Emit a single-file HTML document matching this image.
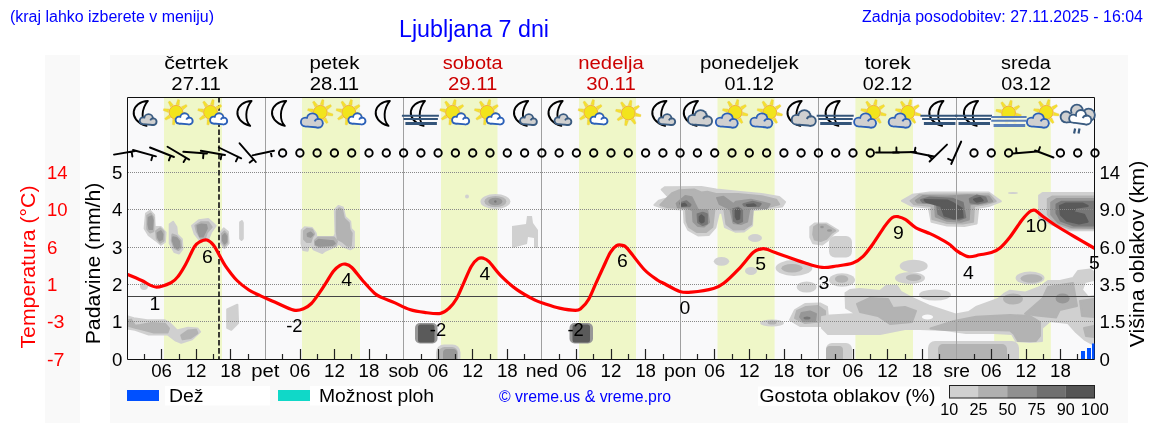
<!DOCTYPE html><html><head><meta charset="utf-8"><style>html,body{margin:0;padding:0;background:#fff;overflow:hidden}svg{display:block;will-change:transform}text{font-family:"Liberation Sans",sans-serif}</style></head><body>
<svg width="1152" height="443" viewBox="0 0 1152 443">
<defs>
<clipPath id="plot"><rect x="127" y="97" width="968" height="262"/></clipPath>
<g id="moon"><path d="M3.6 -12.0 C-12.5 -11.5 -17.5 7 2.2 12.9 C-3.2 7.3 -3.2 -4 3.6 -12.0 Z" fill="none" stroke="#000" stroke-width="1.9" stroke-linejoin="round"/></g>
<g id="sun"><g fill="#f4e12e" stroke="#e9c04a" stroke-width="0.35"><path d="M6.98 3.22 L12.31 3.64 L12.73 1.68 L7.69 -0.10 Z"/><path d="M2.66 7.22 L6.13 11.28 L7.81 10.19 L5.51 5.36 Z"/><path d="M-3.22 6.98 L-3.64 12.31 L-1.68 12.73 L0.10 7.69 Z"/><path d="M-7.22 2.66 L-11.28 6.13 L-10.19 7.81 L-5.36 5.51 Z"/><path d="M-6.98 -3.22 L-12.31 -3.64 L-12.73 -1.68 L-7.69 0.10 Z"/><path d="M-2.66 -7.22 L-6.13 -11.28 L-7.81 -10.19 L-5.51 -5.36 Z"/><path d="M3.22 -6.98 L3.64 -12.31 L1.68 -12.73 L-0.10 -7.69 Z"/><path d="M7.22 -2.66 L11.28 -6.13 L10.19 -7.81 L5.36 -5.51 Z"/></g>
<circle r="6.9" fill="#f2e41c" stroke="#f0a838" stroke-width="0.9"/></g>
<path id="cl" d="M4.5 13.5 A4.5 4.5 0 0 1 4.5 5 A5.2 5.2 0 0 1 14.5 4.5 A4.8 4.8 0 0 1 15.5 13.5 Z"/>
</defs>
<rect width="1152" height="443" fill="#fff"/>
<rect x="45" y="55" width="35" height="368" fill="#f9f9f9"/>
<rect x="110" y="55" width="1018" height="368" fill="#f9f9f9"/>
<text x="10" y="22" font-size="16" fill="#0000ff" textLength="204" lengthAdjust="spacingAndGlyphs">(kraj lahko izberete v meniju)</text>
<text x="399" y="37" font-size="23" fill="#0000ff" textLength="150" lengthAdjust="spacingAndGlyphs">Ljubljana 7 dni</text>
<text x="862" y="22" font-size="16" fill="#0000ff" textLength="281" lengthAdjust="spacingAndGlyphs">Zadnja posodobitev: 27.11.2025 - 16:04</text>
<text x="196.1" y="68.7" font-size="17.5" fill="#000" text-anchor="middle" textLength="63.9" lengthAdjust="spacingAndGlyphs">četrtek</text>
<text x="196.1" y="89.5" font-size="17.5" fill="#000" text-anchor="middle" textLength="49.5" lengthAdjust="spacingAndGlyphs">27.11</text>
<text x="334.4" y="68.7" font-size="17.5" fill="#000" text-anchor="middle" textLength="50.0" lengthAdjust="spacingAndGlyphs">petek</text>
<text x="334.4" y="89.5" font-size="17.5" fill="#000" text-anchor="middle" textLength="49.5" lengthAdjust="spacingAndGlyphs">28.11</text>
<text x="472.7" y="68.7" font-size="17.5" fill="#cc0000" text-anchor="middle" textLength="60.0" lengthAdjust="spacingAndGlyphs">sobota</text>
<text x="472.7" y="89.5" font-size="17.5" fill="#cc0000" text-anchor="middle" textLength="49.5" lengthAdjust="spacingAndGlyphs">29.11</text>
<text x="611.0" y="68.7" font-size="17.5" fill="#cc0000" text-anchor="middle" textLength="65.5" lengthAdjust="spacingAndGlyphs">nedelja</text>
<text x="611.0" y="89.5" font-size="17.5" fill="#cc0000" text-anchor="middle" textLength="49.5" lengthAdjust="spacingAndGlyphs">30.11</text>
<text x="749.3" y="68.7" font-size="17.5" fill="#000" text-anchor="middle" textLength="98.8" lengthAdjust="spacingAndGlyphs">ponedeljek</text>
<text x="749.3" y="89.5" font-size="17.5" fill="#000" text-anchor="middle" textLength="49.5" lengthAdjust="spacingAndGlyphs">01.12</text>
<text x="887.6" y="68.7" font-size="17.5" fill="#000" text-anchor="middle" textLength="45.9" lengthAdjust="spacingAndGlyphs">torek</text>
<text x="887.6" y="89.5" font-size="17.5" fill="#000" text-anchor="middle" textLength="49.5" lengthAdjust="spacingAndGlyphs">02.12</text>
<text x="1025.9" y="68.7" font-size="17.5" fill="#000" text-anchor="middle" textLength="49.7" lengthAdjust="spacingAndGlyphs">sreda</text>
<text x="1025.9" y="89.5" font-size="17.5" fill="#000" text-anchor="middle" textLength="49.5" lengthAdjust="spacingAndGlyphs">03.12</text>
<rect x="127" y="97" width="968" height="262" fill="#f9f9fa"/>
<rect x="164" y="97" width="58.0" height="262" fill="#eff7c8"/>
<rect x="302" y="97" width="58.0" height="262" fill="#eff7c8"/>
<rect x="441" y="97" width="56.5" height="262" fill="#eff7c8"/>
<rect x="579" y="97" width="57.0" height="262" fill="#eff7c8"/>
<rect x="717.5" y="97" width="57.1" height="262" fill="#eff7c8"/>
<rect x="855.4" y="97" width="57.6" height="262" fill="#eff7c8"/>
<rect x="994.2" y="97" width="56.6" height="262" fill="#eff7c8"/>
<g clip-path="url(#plot)">
<path d="M146.0 213.5 L150.0 210.8 L154.1 214.9 L154.8 227.1 L160.9 227.1 L165.6 232.5 L164.9 242.0 L160.9 244.7 L156.1 240.6 L148.7 235.2 L144.6 228.4 Z" fill="#d0d0d0" stroke="#d0d0d0" stroke-width="2" stroke-linejoin="round"/>
<path d="M147.3 215.6 L150.7 213.5 L153.4 217.6 L153.4 231.2 L150.0 232.5 L147.3 229.1 Z" fill="#b3b3b3" stroke="#b3b3b3" stroke-width="2" stroke-linejoin="round"/>
<path d="M148.7 217.6 L151.4 216.3 L152.7 220.3 L152.1 229.1 L149.3 229.1 L148.3 224.4 Z" fill="#979797" stroke="#979797" stroke-width="2" stroke-linejoin="round"/>
<path d="M156.1 231.2 L160.2 228.4 L163.6 231.8 L163.6 240.6 L160.2 242.7 L156.8 238.6 Z" fill="#b3b3b3" stroke="#b3b3b3" stroke-width="2" stroke-linejoin="round"/>
<path d="M157.5 233.2 L160.9 231.2 L162.5 234.5 L161.9 239.3 L159.5 240.4 L157.9 237.2 Z" fill="#979797" stroke="#979797" stroke-width="2" stroke-linejoin="round"/>
<path d="M169.7 224.4 L173.1 221.7 L176.4 227.1 L177.1 234.5 L181.9 239.3 L182.5 248.8 L179.1 253.5 L174.4 252.1 L169.7 243.3 Z" fill="#d0d0d0" stroke="#d0d0d0" stroke-width="2" stroke-linejoin="round"/>
<path d="M172.4 234.5 L176.4 235.9 L180.5 240.6 L181.2 247.4 L178.5 250.1 L174.4 248.1 L171.7 240.6 Z" fill="#b3b3b3" stroke="#b3b3b3" stroke-width="2" stroke-linejoin="round"/>
<path d="M173.1 237.2 L176.4 237.9 L179.1 241.3 L179.6 246.7 L177.4 248.5 L174.7 246.1 L172.8 240.6 Z" fill="#979797" stroke="#979797" stroke-width="2" stroke-linejoin="round"/>
<path d="M192.0 225.7 L198.8 220.3 L208.3 219.0 L215.7 225.7 L211.0 232.5 L207.6 240.6 L200.1 240.6 L194.7 233.9 Z" fill="#d0d0d0" stroke="#d0d0d0" stroke-width="2" stroke-linejoin="round"/>
<path d="M195.4 225.7 L200.8 222.3 L208.3 222.3 L211.7 227.1 L206.9 232.5 L204.9 238.6 L200.8 238.6 L196.8 231.8 Z" fill="#b3b3b3" stroke="#b3b3b3" stroke-width="2" stroke-linejoin="round"/>
<path d="M197.4 225.7 L201.5 224.4 L206.2 225.1 L206.9 228.4 L204.2 233.9 L202.8 236.6 L200.1 236.6 L198.1 231.2 Z" fill="#979797" stroke="#979797" stroke-width="2" stroke-linejoin="round"/>
<path d="M220.5 232.5 L223.8 228.4 L227.9 231.8 L228.6 243.3 L224.5 248.1 L221.1 243.3 Z" fill="#d0d0d0" stroke="#d0d0d0" stroke-width="2" stroke-linejoin="round"/>
<path d="M221.8 233.9 L224.3 231.4 L227.0 234.5 L227.2 242.7 L224.5 245.8 L222.1 242.0 Z" fill="#b3b3b3" stroke="#b3b3b3" stroke-width="2" stroke-linejoin="round"/>
<path d="M222.9 235.9 L224.8 233.9 L226.4 236.6 L226.4 241.3 L224.5 243.6 L222.9 240.6 Z" fill="#979797" stroke="#979797" stroke-width="2" stroke-linejoin="round"/>
<path d="M240.1 222.3 L241.9 221.0 L242.8 223.0 L242.8 238.6 L241.5 240.0 L240.1 238.6 Z" fill="#d0d0d0" stroke="#d0d0d0" stroke-width="2" stroke-linejoin="round"/>
<path d="M301.7 230.2 L304.7 227.3 L312.0 228.0 L315.7 233.2 L316.4 236.9 L334.1 236.9 L335.5 233.9 L334.8 209.7 L338.5 206.0 L342.9 207.5 L345.1 217.0 L350.2 221.4 L350.9 228.8 L353.9 231.7 L353.9 247.1 L350.2 249.3 L341.4 245.7 L338.5 243.5 L337.0 245.7 L325.2 250.8 L322.3 253.0 L313.5 249.3 L309.8 243.5 L307.6 250.8 L303.2 250.1 L301.5 243.5 Z" fill="#d0d0d0" stroke="#d0d0d0" stroke-width="2" stroke-linejoin="round"/>
<path d="M304.0 231.0 L306.9 228.8 L312.0 229.5 L314.2 233.9 L312.0 237.6 L310.6 242.0 L306.9 242.0 L304.0 239.1 Z" fill="#b3b3b3" stroke="#b3b3b3" stroke-width="2" stroke-linejoin="round"/>
<path d="M315.0 240.5 L317.9 237.6 L334.1 237.6 L337.0 241.3 L335.5 245.7 L319.4 247.1 L315.0 244.9 Z" fill="#b3b3b3" stroke="#b3b3b3" stroke-width="2" stroke-linejoin="round"/>
<path d="M336.7 211.2 L339.2 208.2 L342.1 209.7 L344.0 218.5 L348.7 222.9 L349.5 229.5 L351.7 233.2 L350.9 245.7 L347.3 245.7 L342.9 242.0 L337.7 239.1 L336.7 231.7 Z" fill="#b3b3b3" stroke="#b3b3b3" stroke-width="2" stroke-linejoin="round"/>
<path d="M307.6 233.9 L310.6 232.4 L312.8 234.6 L310.6 236.9 L307.9 236.1 Z" fill="#979797" stroke="#979797" stroke-width="2" stroke-linejoin="round"/>
<path d="M315.7 242.0 L318.6 239.8 L333.3 241.3 L334.8 243.5 L332.6 244.9 L319.4 245.7 L316.1 244.6 Z" fill="#979797" stroke="#979797" stroke-width="2" stroke-linejoin="round"/>
<path d="M127.0 316.3 L133.8 318.3 L147.3 320.3 L164.9 320.3 L170.3 323.7 L177.1 330.5 L188.0 327.8 L197.4 328.4 L200.1 331.8 L192.0 339.3 L181.2 342.7 L175.8 340.6 L167.6 334.5 L148.7 334.5 L135.1 329.8 L127.0 328.4 Z" fill="#d0d0d0" stroke="#d0d0d0" stroke-width="2" stroke-linejoin="round"/>
<path d="M128.4 320.3 L131.1 319.6 L135.1 325.7 L140.5 325.1 L151.4 323.0 L164.9 323.7 L169.0 328.4 L167.6 332.5 L154.1 332.5 L140.5 329.1 L135.1 327.8 L128.4 325.7 Z" fill="#b3b3b3" stroke="#b3b3b3" stroke-width="2" stroke-linejoin="round"/>
<path d="M181.2 335.2 L188.0 330.5 L196.1 329.8 L197.4 333.2 L190.7 337.9 L182.5 339.3 Z" fill="#b3b3b3" stroke="#b3b3b3" stroke-width="2" stroke-linejoin="round"/>
<path d="M227.2 309.5 L237.4 304.7 L238.1 323.0 L231.3 329.8 L227.2 327.8 Z" fill="#d0d0d0" stroke="#d0d0d0" stroke-width="2" stroke-linejoin="round"/>
<ellipse cx="144" cy="286" rx="4" ry="4" fill="#d0d0d0"/>
<ellipse cx="495.4" cy="201.5" rx="15" ry="7.5" fill="#d0d0d0"/>
<ellipse cx="495.4" cy="201.5" rx="11" ry="5.5" fill="#b3b3b3"/>
<ellipse cx="495.4" cy="201.5" rx="7" ry="3.8" fill="#979797"/>
<ellipse cx="495.4" cy="201.5" rx="1.2" ry="1.2" fill="#777777"/>
<ellipse cx="467" cy="196.5" rx="2" ry="2" fill="#d0d0d0"/>
<path d="M512 226 L526 224 L527 216 L532 216 L533 223 L538 230 L538 248 L534 248 L534 238 L528 237 L527 244 L512 248 Z" fill="#d0d0d0"/>
<rect x="415" y="323" width="22.5" height="20.5" rx="5" fill="#979797"/>
<rect x="418" y="324.5" width="16.5" height="18.0" rx="2.5" fill="#5a5a5a"/>
<rect x="569.5" y="323" width="23.5" height="20.5" rx="5" fill="#979797"/>
<rect x="572.5" y="324.5" width="17.5" height="18.0" rx="2.5" fill="#5a5a5a"/>
<rect x="436" y="344.5" width="24.5" height="20.5" rx="8" fill="#d0d0d0"/>
<rect x="438.5" y="347" width="19.5" height="18" rx="6" fill="#b3b3b3"/>
<rect x="443" y="349" width="14" height="16" rx="4" fill="#979797"/>
<path d="M661.7 189.5 L664.7 187.3 L701.4 187.0 L716.1 189.5 L738.1 191.7 L761.6 194.0 L779.2 196.9 L785.1 202.0 L782.2 206.4 L767.5 208.6 L752.8 210.1 L752.1 225.5 L744.0 231.4 L735.2 231.7 L724.9 227.0 L722.0 213.0 L719.0 212.6 L715.3 227.7 L708.7 235.1 L698.5 235.5 L688.2 229.9 L684.5 222.6 L683.8 209.4 L664.7 208.6 L654.4 205.0 L658.8 200.6 L669.1 197.6 Z" fill="#d0d0d0" stroke="#d0d0d0" stroke-width="2" stroke-linejoin="round"/>
<path d="M663.2 202.0 L672.0 193.2 L679.4 190.3 L694.1 189.5 L701.4 192.5 L707.3 191.7 L716.1 194.0 L738.1 194.0 L761.6 196.2 L776.3 199.8 L779.2 204.2 L767.5 207.2 L752.8 208.6 L751.3 224.1 L744.0 229.2 L733.7 229.6 L726.4 224.1 L724.2 208.6 L714.6 207.9 L712.4 227.0 L705.8 232.1 L697.0 232.1 L688.9 227.0 L686.7 221.1 L686.0 208.6 L667.6 207.2 L660.3 205.0 Z" fill="#b3b3b3" stroke="#b3b3b3" stroke-width="2" stroke-linejoin="round"/>
<path d="M676.6 203.4 L685.3 195.9 L691.6 197.2 L697.8 209.7 L701.5 210.3 L707.2 210.3 L709.0 222.2 L704.0 226.5 L697.8 225.9 L693.4 221.5 L692.8 210.3 L687.8 207.8 L677.8 207.2 Z" fill="#979797" stroke="#979797" stroke-width="2" stroke-linejoin="round"/>
<path d="M717.1 197.9 L723.4 196.7 L733.4 204.1 L735.9 201.7 L750.8 199.8 L769.6 204.1 L767.1 207.9 L749.6 207.9 L747.1 221.6 L740.9 224.1 L733.4 222.9 L730.3 209.1 L719.6 204.1 Z" fill="#979797" stroke="#979797" stroke-width="2" stroke-linejoin="round"/>
<path d="M680.2 203.2 L686.4 201.2 L690.5 204.8 L689.4 206.3 L681.2 206.3 Z" fill="#777777" stroke="#777777" stroke-width="2" stroke-linejoin="round"/>
<path d="M697.6 214.2 L702.8 212.7 L706.9 214.2 L706.9 223.5 L702.8 225.0 L698.1 222.4 Z" fill="#777777" stroke="#777777" stroke-width="2" stroke-linejoin="round"/>
<path d="M732.9 209.1 L738.0 207.6 L742.1 210.1 L742.1 221.4 L738.0 223.0 L733.9 220.9 Z" fill="#777777" stroke="#777777" stroke-width="2" stroke-linejoin="round"/>
<path d="M743.3 204.3 L752.5 201.7 L760.7 203.8 L758.7 206.3 L744.3 205.8 Z" fill="#777777" stroke="#777777" stroke-width="2" stroke-linejoin="round"/>
<path d="M699.7 216.8 L701.5 215.4 L703.7 217.2 L703.7 221.6 L701.5 222.5 L699.7 220.7 Z" fill="#5a5a5a" stroke="#5a5a5a" stroke-width="2" stroke-linejoin="round"/>
<path d="M735.7 210.0 L738.4 209.1 L739.7 211.3 L739.2 218.8 L737.0 219.2 L735.7 216.6 Z" fill="#5a5a5a" stroke="#5a5a5a" stroke-width="2" stroke-linejoin="round"/>
<path d="M681.5 204.4 L684.6 203.6 L686.3 205.3 L681.9 205.8 Z" fill="#5a5a5a" stroke="#5a5a5a" stroke-width="2" stroke-linejoin="round"/>
<path d="M746.8 205.0 L753.8 204.2 L755.6 205.5 L747.7 205.9 Z" fill="#5a5a5a" stroke="#5a5a5a" stroke-width="2" stroke-linejoin="round"/>
<ellipse cx="755" cy="238" rx="7" ry="4" fill="#d0d0d0"/>
<path d="M810.3 227.0 L814.7 223.4 L826.4 223.4 L838.2 230.7 L833.8 233.6 L827.9 240.2 L822.0 244.6 L813.2 243.2 L810.3 237.3 Z" fill="#d0d0d0" stroke="#d0d0d0" stroke-width="2" stroke-linejoin="round"/>
<path d="M814.0 227.0 L817.6 224.8 L825.7 224.8 L835.2 230.7 L831.6 232.9 L826.4 238.8 L820.6 241.0 L814.7 239.5 L813.2 234.4 Z" fill="#b3b3b3" stroke="#b3b3b3" stroke-width="2" stroke-linejoin="round"/>
<ellipse cx="822" cy="227" rx="1.8" ry="1.3" fill="#979797"/>
<ellipse cx="829.5" cy="230.5" rx="2.5" ry="1.2" fill="#979797"/>
<rect x="829" y="236" width="23" height="21.5" rx="6" fill="#d0d0d0"/>
<ellipse cx="721.5" cy="261.3" rx="7.7" ry="4.4" fill="#d0d0d0"/>
<ellipse cx="751" cy="270.9" rx="6" ry="4" fill="#d0d0d0"/>
<ellipse cx="794" cy="268" rx="18.4" ry="7.9" fill="#d0d0d0"/>
<ellipse cx="792" cy="268.3" rx="10.6" ry="4.2" fill="#b3b3b3"/>
<ellipse cx="806.6" cy="287" rx="10" ry="5.6" fill="#d0d0d0"/>
<path d="M795 310 L805 304 L820 303.5 L827 307 L828 318 L822 326 L800 326 L790 320 Z" fill="#d0d0d0" stroke="#d0d0d0" stroke-width="2" stroke-linejoin="round"/>
<path d="M797 311 L806 307 L818 306 L825 311 L825 321 L805 323 L795 318 Z" fill="#b3b3b3" stroke="#b3b3b3" stroke-width="2" stroke-linejoin="round"/>
<path d="M801.5 313 L810 311.5 L816 314 L815 321 L803 321 L800 317 Z" fill="#979797" stroke="#979797" stroke-width="2" stroke-linejoin="round"/>
<ellipse cx="807" cy="318" rx="3.5" ry="1.5" fill="#777777"/>
<ellipse cx="772" cy="323" rx="12" ry="3.6" fill="#d0d0d0"/>
<ellipse cx="772" cy="322.5" rx="4.5" ry="2" fill="#b3b3b3"/>
<path d="M845.5 293 L850 290 L860 289 L880 291 L886 286 L897 286 L901 292 L912 298 L929 305.7 L955.5 314.5 L968.7 312 L976 307 L998 299 L1004 294 L1010 290.7 L1025 292.6 L1040 287 L1048 281 L1060 281 L1073 278 L1078 271 L1090 269.5 L1094 272 L1094 280 L1085 282 L1082 290 L1088 297 L1094 296 L1094 345 L1085 340 L1076 332 L1068 323 L1050 321 L1042 328 L1042 341 L1030 342 L1016 341 L1012 334 L994 333 L966 333 L945 330 L920 329 L905 329 L880 334 L828 334 L822 328 L822 317 L830 315.5 L856 314 L846 308 Z" fill="#d0d0d0" stroke="#d0d0d0" stroke-width="2" stroke-linejoin="round"/>
<ellipse cx="913.7" cy="266" rx="14" ry="6.3" fill="#d0d0d0"/>
<ellipse cx="910" cy="278" rx="15" ry="6" fill="#d0d0d0"/>
<ellipse cx="842" cy="280" rx="13" ry="6.7" fill="#d0d0d0"/>
<ellipse cx="935" cy="295" rx="16" ry="5.5" fill="#d0d0d0"/>
<ellipse cx="1030" cy="278" rx="14.5" ry="6.5" fill="#d0d0d0"/>
<ellipse cx="913.6" cy="277.7" rx="7.7" ry="3.4" fill="#b3b3b3"/>
<ellipse cx="841.6" cy="279" rx="6.7" ry="3.8" fill="#b3b3b3"/>
<ellipse cx="1031.5" cy="278.5" rx="11" ry="4.3" fill="#b3b3b3"/>
<ellipse cx="1013" cy="299" rx="10" ry="5.5" fill="#b3b3b3"/>
<path d="M857 304 L870 298 L888 299 L893 308 L905 307 L916 311 L912 322 L890 324 L878 316 L860 312 Z" fill="#b3b3b3" stroke="#b3b3b3" stroke-width="2" stroke-linejoin="round"/>
<path d="M1025 313.7 L1042.5 298.4 L1048 286.9 L1073 283 L1077 306 L1059.7 310 L1056 317.5 L1036.7 315.6 Z" fill="#b3b3b3" stroke="#b3b3b3" stroke-width="2" stroke-linejoin="round"/>
<ellipse cx="1062.6" cy="298.4" rx="7" ry="5" fill="#979797"/>
<path d="M930.5 328.4 L954 321 L976 316.7 L1010 315 L1030 316 L1040 322 L1040 336 L1036 341 L1018 341 L1014 334 L1010 330.5 L990 330 L966 330 L945 330 Z" fill="#b3b3b3" stroke="#b3b3b3" stroke-width="2" stroke-linejoin="round"/>
<ellipse cx="927.5" cy="317" rx="5.5" ry="2.6" fill="#f9f9fa"/>
<path d="M1080 301 L1094 299 L1094 317 L1082 316 Z" fill="#b3b3b3" stroke="#b3b3b3" stroke-width="2" stroke-linejoin="round"/>
<path d="M1084 328 L1094 326 L1094 337 L1086 336 Z" fill="#b3b3b3" stroke="#b3b3b3" stroke-width="2" stroke-linejoin="round"/>
<path d="M901.9 200.8 L912.4 194.8 L929.7 192.5 L988.8 192.5 L1000.9 201.2 L988.8 206.0 L978.3 207.8 L976.6 223.4 L964.4 226.0 L947.1 225.5 L931.5 221.7 L928.9 207.8 L912.4 206.0 Z" fill="#d0d0d0" stroke="#d0d0d0" stroke-width="2" stroke-linejoin="round"/>
<path d="M910.6 200.8 L919.3 194.8 L988.8 194.2 L995.7 201.2 L985.3 204.3 L974.0 206.0 L973.1 221.7 L962.7 223.4 L947.1 223.1 L932.3 219.1 L931.5 206.0 L914.1 204.3 Z" fill="#b3b3b3" stroke="#b3b3b3" stroke-width="2" stroke-linejoin="round"/>
<path d="M915.8 200.5 L922.8 196.0 L947.1 196.5 L967.9 195.3 L988.8 196.5 L992.2 201.2 L981.8 203.4 L969.7 204.3 L968.8 219.6 L961.0 221.7 L947.1 220.8 L935.8 216.5 L934.9 203.4 L917.6 202.6 Z" fill="#979797" stroke="#979797" stroke-width="2" stroke-linejoin="round"/>
<path d="M921.0 200.0 L929.7 197.4 L952.3 198.8 L962.7 202.6 L965.3 217.3 L959.2 219.6 L945.3 218.2 L938.4 213.9 L936.7 202.6 L922.8 202.2 Z" fill="#777777" stroke="#777777" stroke-width="2" stroke-linejoin="round"/>
<path d="M969.7 198.8 L976.6 195.6 L985.3 197.4 L987.0 201.2 L978.3 203.4 L970.5 202.6 Z" fill="#777777" stroke="#777777" stroke-width="2" stroke-linejoin="round"/>
<path d="M924.5 200.0 L947.1 200.5 L952.3 202.6 L961.8 208.6 L962.7 217.3 L954.0 218.5 L944.5 215.6 L941.0 206.0 L926.2 201.7 Z" fill="#5a5a5a" stroke="#5a5a5a" stroke-width="2" stroke-linejoin="round"/>
<path d="M974.0 199.4 L980.1 197.7 L982.7 200.5 L976.6 201.7 Z" fill="#5a5a5a" stroke="#5a5a5a" stroke-width="2" stroke-linejoin="round"/>
<ellipse cx="1013" cy="193" rx="5" ry="1" fill="#d0d0d0"/>
<path d="M1039.1 195.6 L1042.6 193.0 L1093.8 193.0 L1093.8 230.3 L1068.6 230.3 L1051.2 224.3 L1039.1 218.2 Z" fill="#d0d0d0" stroke="#d0d0d0" stroke-width="2" stroke-linejoin="round"/>
<path d="M1047.8 199.1 L1052.1 196.5 L1093.8 196.5 L1093.8 228.6 L1070.3 228.6 L1054.7 223.4 L1047.8 214.7 Z" fill="#b3b3b3" stroke="#b3b3b3" stroke-width="2" stroke-linejoin="round"/>
<path d="M1051.2 202.6 L1056.5 199.1 L1093.8 199.1 L1093.8 227.7 L1072.1 227.2 L1058.2 222.5 L1051.2 214.7 Z" fill="#979797" stroke="#979797" stroke-width="2" stroke-linejoin="round"/>
<path d="M1056.5 204.3 L1061.7 201.7 L1093.8 201.7 L1093.8 225.5 L1073.8 225.5 L1060.8 220.8 L1056.5 213.0 Z" fill="#777777" stroke="#777777" stroke-width="2" stroke-linejoin="round"/>
<path d="M1059.9 206.0 L1066.0 203.4 L1082.5 203.4 L1087.7 206.0 L1075.6 207.8 L1073.8 212.1 L1084.2 214.7 L1087.7 221.7 L1079.0 223.4 L1066.9 220.8 L1060.8 214.7 Z" fill="#5a5a5a" stroke="#5a5a5a" stroke-width="2" stroke-linejoin="round"/>
<rect x="928" y="341" width="91" height="24" rx="7" fill="#d0d0d0"/>
<rect x="938" y="344" width="69" height="21" rx="5" fill="#b3b3b3"/>
<rect x="826" y="343" width="26" height="22" rx="6" fill="#d0d0d0"/>
<rect x="826" y="346" width="17" height="19" rx="4" fill="#b3b3b3"/>
</g>
<line x1="128" y1="321.5" x2="1094" y2="321.5" stroke="#888" stroke-width="1" stroke-dasharray="1 1"/>
<line x1="128" y1="284.5" x2="1094" y2="284.5" stroke="#888" stroke-width="1" stroke-dasharray="1 1"/>
<line x1="128" y1="247.5" x2="1094" y2="247.5" stroke="#888" stroke-width="1" stroke-dasharray="1 1"/>
<line x1="128" y1="209.5" x2="1094" y2="209.5" stroke="#888" stroke-width="1" stroke-dasharray="1 1"/>
<line x1="128" y1="172.5" x2="1094" y2="172.5" stroke="#888" stroke-width="1" stroke-dasharray="1 1"/>
<line x1="265.5" y1="97" x2="265.5" y2="359" stroke="#a0a0a0" stroke-width="1"/>
<line x1="403.5" y1="97" x2="403.5" y2="359" stroke="#a0a0a0" stroke-width="1"/>
<line x1="541.5" y1="97" x2="541.5" y2="359" stroke="#a0a0a0" stroke-width="1"/>
<line x1="680.5" y1="97" x2="680.5" y2="359" stroke="#a0a0a0" stroke-width="1"/>
<line x1="818.5" y1="97" x2="818.5" y2="359" stroke="#a0a0a0" stroke-width="1"/>
<line x1="956.5" y1="97" x2="956.5" y2="359" stroke="#a0a0a0" stroke-width="1"/>
<line x1="127" y1="296.5" x2="1095" y2="296.5" stroke="#444" stroke-width="1"/>
<line x1="219" y1="97" x2="219" y2="359" stroke="#1a1a1a" stroke-width="1.7" stroke-dasharray="5.6 2.5"/>
<path d="M127.0 274.3 C129.4 275.3 136.9 278.4 141.7 280.5 C146.5 282.6 150.7 286.6 155.6 287.0 C160.5 287.4 167.2 284.5 171.0 282.7 C174.8 280.9 176.0 279.1 178.4 276.0 C180.8 272.9 183.0 269.2 185.7 264.3 C188.4 259.4 192.1 250.5 194.5 246.7 C196.9 242.9 198.3 242.6 200.4 241.5 C202.5 240.4 204.8 239.4 207.0 240.0 C209.2 240.6 211.5 242.6 213.6 245.2 C215.7 247.8 217.5 252.1 219.5 255.5 C221.5 258.9 222.5 261.6 225.4 265.8 C228.3 270.0 233.1 276.5 237.0 280.5 C240.9 284.5 245.0 287.4 248.9 290.0 C252.8 292.6 256.3 293.9 260.6 295.9 C264.9 297.9 269.2 299.6 274.7 302.0 C280.2 304.4 288.9 309.0 293.8 310.1 C298.7 311.2 301.1 309.7 304.0 308.6 C306.9 307.5 308.9 305.9 311.4 303.5 C313.8 301.1 316.3 297.3 318.7 293.9 C321.1 290.5 323.6 286.7 326.0 282.9 C328.4 279.1 331.1 274.1 333.4 271.2 C335.7 268.3 338.0 266.5 340.0 265.3 C342.0 264.1 343.2 263.7 345.2 264.1 C347.2 264.5 348.9 264.7 351.8 267.5 C354.7 270.3 359.0 276.4 362.8 280.7 C366.6 285.0 371.3 290.4 374.5 293.2 C377.7 296.0 378.5 296.0 381.9 297.6 C385.3 299.2 390.4 300.9 395.0 302.9 C399.6 304.9 404.8 307.9 409.7 309.5 C414.6 311.1 419.3 311.8 424.4 312.4 C429.5 313.0 436.4 314.1 440.5 313.4 C444.6 312.7 446.6 310.5 449.3 308.0 C452.0 305.5 454.2 302.8 456.7 298.5 C459.1 294.2 461.6 287.7 464.0 282.3 C466.4 276.9 469.1 270.1 471.4 266.2 C473.7 262.3 476.1 260.1 478.0 258.8 C479.9 257.5 481.3 257.6 483.1 258.1 C484.9 258.6 486.1 258.8 489.0 261.7 C491.9 264.6 496.1 271.0 500.7 275.7 C505.3 280.4 511.3 285.6 516.9 289.6 C522.5 293.6 529.9 297.5 534.5 299.9 C539.1 302.2 540.6 302.3 544.7 303.7 C548.9 305.1 554.3 307.0 559.4 308.1 C564.5 309.2 571.8 310.3 575.5 310.3 C579.2 310.3 579.2 309.9 581.4 308.1 C583.6 306.3 586.3 303.5 588.7 299.3 C591.1 295.1 593.5 288.6 596.0 283.2 C598.5 277.8 601.0 272.1 603.4 267.0 C605.8 261.9 608.2 256.0 610.4 252.4 C612.6 248.8 614.5 246.8 616.5 245.6 C618.5 244.4 620.6 244.8 622.5 245.4 C624.4 246.0 624.1 244.9 627.7 248.9 C631.3 252.9 639.2 264.3 644.2 269.5 C649.2 274.7 654.3 277.8 657.8 280.2 C661.3 282.6 661.4 282.1 665.0 284.0 C668.6 285.9 675.3 290.0 679.7 291.4 C684.1 292.8 685.8 292.6 691.4 292.1 C697.0 291.6 708.1 290.0 713.5 288.5 C718.9 287.0 719.6 286.5 723.7 283.3 C727.9 280.1 733.5 274.5 738.4 269.4 C743.3 264.3 749.4 255.9 753.1 252.5 C756.8 249.1 758.2 249.7 760.4 249.1 C762.6 248.5 763.8 248.5 766.3 249.1 C768.8 249.7 768.7 250.2 775.1 252.5 C781.5 254.8 796.7 260.3 804.5 262.8 C812.3 265.3 816.6 266.9 822.0 267.4 C827.4 267.9 831.6 266.7 836.7 266.0 C841.9 265.3 848.5 264.6 852.9 263.0 C857.3 261.4 859.7 259.7 863.1 256.4 C866.5 253.1 869.7 248.3 873.4 243.2 C877.1 238.1 882.0 229.9 885.2 225.6 C888.4 221.3 890.3 219.0 892.5 217.5 C894.7 216.0 896.2 216.3 898.4 216.7 C900.6 217.1 902.8 217.8 905.7 219.7 C908.6 221.5 912.0 225.5 916.0 227.8 C920.0 230.1 926.2 231.9 930.0 233.6 C933.8 235.3 935.8 236.4 939.0 238.1 C942.2 239.8 946.1 242.0 949.0 244.0 C951.9 246.0 953.0 248.2 956.2 250.3 C959.4 252.4 964.1 255.9 968.0 256.6 C971.9 257.4 975.8 255.5 979.7 254.8 C983.6 254.1 988.0 253.7 991.4 252.6 C994.8 251.5 996.9 250.6 1000.0 248.0 C1003.1 245.4 1006.3 241.7 1010.0 237.0 C1013.7 232.3 1018.7 224.2 1022.0 220.0 C1025.3 215.8 1027.8 213.1 1030.0 211.5 C1032.2 209.9 1032.8 209.5 1035.0 210.3 C1037.2 211.1 1039.7 214.1 1043.0 216.5 C1046.3 218.9 1049.7 221.6 1055.0 225.0 C1060.3 228.4 1068.5 233.2 1075.0 237.0 C1081.5 240.8 1090.8 246.2 1094.0 248.0" fill="none" stroke="#ff0000" stroke-width="3.2" stroke-linejoin="round" stroke-linecap="round" clip-path="url(#plot)"/>
<text x="155" y="309.8" font-size="17.5" fill="#000" text-anchor="middle" textLength="10.8" lengthAdjust="spacingAndGlyphs">1</text>
<text x="207.5" y="262.5" font-size="17.5" fill="#000" text-anchor="middle" textLength="10.8" lengthAdjust="spacingAndGlyphs">6</text>
<text x="294.3" y="331.8" font-size="17.5" fill="#000" text-anchor="middle" textLength="16.3" lengthAdjust="spacingAndGlyphs">-2</text>
<text x="346.6" y="286.3" font-size="17.5" fill="#000" text-anchor="middle" textLength="10.8" lengthAdjust="spacingAndGlyphs">4</text>
<text x="438" y="336.3" font-size="17.5" fill="#000" text-anchor="middle" textLength="16.3" lengthAdjust="spacingAndGlyphs">-2</text>
<text x="484.9" y="279.8" font-size="17.5" fill="#000" text-anchor="middle" textLength="10.8" lengthAdjust="spacingAndGlyphs">4</text>
<text x="575.6" y="336.3" font-size="17.5" fill="#000" text-anchor="middle" textLength="16.3" lengthAdjust="spacingAndGlyphs">-2</text>
<text x="622.5" y="266.5" font-size="17.5" fill="#000" text-anchor="middle" textLength="10.8" lengthAdjust="spacingAndGlyphs">6</text>
<text x="685" y="314.3" font-size="17.5" fill="#000" text-anchor="middle" textLength="10.8" lengthAdjust="spacingAndGlyphs">0</text>
<text x="760.7" y="269.8" font-size="17.5" fill="#000" text-anchor="middle" textLength="10.8" lengthAdjust="spacingAndGlyphs">5</text>
<text x="824" y="289.3" font-size="17.5" fill="#000" text-anchor="middle" textLength="10.8" lengthAdjust="spacingAndGlyphs">3</text>
<text x="898.4" y="238.5" font-size="17.5" fill="#000" text-anchor="middle" textLength="10.8" lengthAdjust="spacingAndGlyphs">9</text>
<text x="968.5" y="279.0" font-size="17.5" fill="#000" text-anchor="middle" textLength="10.8" lengthAdjust="spacingAndGlyphs">4</text>
<text x="1036.3" y="231.7" font-size="17.5" fill="#000" text-anchor="middle" textLength="21.6" lengthAdjust="spacingAndGlyphs">10</text>
<text x="1094.3" y="269.3" font-size="17.5" fill="#000" text-anchor="middle" textLength="10.8" lengthAdjust="spacingAndGlyphs">5</text>
<line x1="144.5" y1="359" x2="144.5" y2="354" stroke="#222" stroke-width="1.2"/>
<line x1="161.5" y1="359" x2="161.5" y2="349" stroke="#222" stroke-width="1.2"/>
<line x1="179.5" y1="359" x2="179.5" y2="354" stroke="#222" stroke-width="1.2"/>
<line x1="196.5" y1="359" x2="196.5" y2="349" stroke="#222" stroke-width="1.2"/>
<line x1="213.5" y1="359" x2="213.5" y2="354" stroke="#222" stroke-width="1.2"/>
<line x1="230.5" y1="359" x2="230.5" y2="349" stroke="#222" stroke-width="1.2"/>
<line x1="248.5" y1="359" x2="248.5" y2="354" stroke="#222" stroke-width="1.2"/>
<line x1="282.5" y1="359" x2="282.5" y2="354" stroke="#222" stroke-width="1.2"/>
<line x1="300.5" y1="359" x2="300.5" y2="349" stroke="#222" stroke-width="1.2"/>
<line x1="317.5" y1="359" x2="317.5" y2="354" stroke="#222" stroke-width="1.2"/>
<line x1="334.5" y1="359" x2="334.5" y2="349" stroke="#222" stroke-width="1.2"/>
<line x1="351.5" y1="359" x2="351.5" y2="354" stroke="#222" stroke-width="1.2"/>
<line x1="369.5" y1="359" x2="369.5" y2="349" stroke="#222" stroke-width="1.2"/>
<line x1="386.5" y1="359" x2="386.5" y2="354" stroke="#222" stroke-width="1.2"/>
<line x1="421.5" y1="359" x2="421.5" y2="354" stroke="#222" stroke-width="1.2"/>
<line x1="438.5" y1="359" x2="438.5" y2="349" stroke="#222" stroke-width="1.2"/>
<line x1="455.5" y1="359" x2="455.5" y2="354" stroke="#222" stroke-width="1.2"/>
<line x1="472.5" y1="359" x2="472.5" y2="349" stroke="#222" stroke-width="1.2"/>
<line x1="490.5" y1="359" x2="490.5" y2="354" stroke="#222" stroke-width="1.2"/>
<line x1="507.5" y1="359" x2="507.5" y2="349" stroke="#222" stroke-width="1.2"/>
<line x1="524.5" y1="359" x2="524.5" y2="354" stroke="#222" stroke-width="1.2"/>
<line x1="559.5" y1="359" x2="559.5" y2="354" stroke="#222" stroke-width="1.2"/>
<line x1="576.5" y1="359" x2="576.5" y2="349" stroke="#222" stroke-width="1.2"/>
<line x1="593.5" y1="359" x2="593.5" y2="354" stroke="#222" stroke-width="1.2"/>
<line x1="611.5" y1="359" x2="611.5" y2="349" stroke="#222" stroke-width="1.2"/>
<line x1="628.5" y1="359" x2="628.5" y2="354" stroke="#222" stroke-width="1.2"/>
<line x1="645.5" y1="359" x2="645.5" y2="349" stroke="#222" stroke-width="1.2"/>
<line x1="663.5" y1="359" x2="663.5" y2="354" stroke="#222" stroke-width="1.2"/>
<line x1="697.5" y1="359" x2="697.5" y2="354" stroke="#222" stroke-width="1.2"/>
<line x1="714.5" y1="359" x2="714.5" y2="349" stroke="#222" stroke-width="1.2"/>
<line x1="732.5" y1="359" x2="732.5" y2="354" stroke="#222" stroke-width="1.2"/>
<line x1="749.5" y1="359" x2="749.5" y2="349" stroke="#222" stroke-width="1.2"/>
<line x1="766.5" y1="359" x2="766.5" y2="354" stroke="#222" stroke-width="1.2"/>
<line x1="784.5" y1="359" x2="784.5" y2="349" stroke="#222" stroke-width="1.2"/>
<line x1="801.5" y1="359" x2="801.5" y2="354" stroke="#222" stroke-width="1.2"/>
<line x1="835.5" y1="359" x2="835.5" y2="354" stroke="#222" stroke-width="1.2"/>
<line x1="853.5" y1="359" x2="853.5" y2="349" stroke="#222" stroke-width="1.2"/>
<line x1="870.5" y1="359" x2="870.5" y2="354" stroke="#222" stroke-width="1.2"/>
<line x1="887.5" y1="359" x2="887.5" y2="349" stroke="#222" stroke-width="1.2"/>
<line x1="905.5" y1="359" x2="905.5" y2="354" stroke="#222" stroke-width="1.2"/>
<line x1="922.5" y1="359" x2="922.5" y2="349" stroke="#222" stroke-width="1.2"/>
<line x1="939.5" y1="359" x2="939.5" y2="354" stroke="#222" stroke-width="1.2"/>
<line x1="974.5" y1="359" x2="974.5" y2="354" stroke="#222" stroke-width="1.2"/>
<line x1="991.5" y1="359" x2="991.5" y2="349" stroke="#222" stroke-width="1.2"/>
<line x1="1008.5" y1="359" x2="1008.5" y2="354" stroke="#222" stroke-width="1.2"/>
<line x1="1026.5" y1="359" x2="1026.5" y2="349" stroke="#222" stroke-width="1.2"/>
<line x1="1043.5" y1="359" x2="1043.5" y2="354" stroke="#222" stroke-width="1.2"/>
<line x1="1060.5" y1="359" x2="1060.5" y2="349" stroke="#222" stroke-width="1.2"/>
<line x1="1077.5" y1="359" x2="1077.5" y2="354" stroke="#222" stroke-width="1.2"/>
<path d="M127.5 97.5 L1094.5 97.5 L1094.5 359.5 L127.5 359.5 Z" fill="none" stroke="#111" stroke-width="1"/>
<rect x="1081" y="351" width="4" height="8" fill="#0050ff"/><rect x="1087" y="348" width="4" height="11" fill="#0050ff"/><rect x="1092" y="343.5" width="2.5" height="15.5" fill="#0050ff"/>
<g transform="translate(144.3 113)"><use href="#moon"/><g fill="#3a5b80"><circle cx="-1.21" cy="7.78" r="4.31"/><circle cx="4.26" cy="5.39" r="5.24"/><circle cx="8.95" cy="8.70" r="4.24"/><path d="M-1.21 9.74 L8.95 10.59 L8.95 12.94 L-1.21 12.09 Z"/></g><g fill="#d0d0d0"><circle cx="-1.21" cy="7.78" r="2.46"/><circle cx="4.26" cy="5.39" r="3.39"/><circle cx="8.95" cy="8.70" r="2.39"/><path d="M-1.21 7.78 L0.44 5.59 L4.26 5.39 L7.95 6.28 L8.95 8.70 L8.95 11.09 L-1.21 10.24 Z"/></g><path d="M5.95 7.30 A3.31 3.31 0 0 1 9.24 5.40" fill="none" stroke="#3a5b80" stroke-width="1.85"/></g>
<g transform="translate(178.9 113)"><use href="#sun" transform="translate(-2.9 -0.7)"/><g fill="#2b60b8"><circle cx="0.13" cy="7.06" r="4.36"/><circle cx="5.67" cy="4.65" r="5.29"/><circle cx="10.43" cy="8.00" r="4.28"/><path d="M0.13 9.07 L10.43 9.93 L10.43 12.28 L0.13 11.42 Z"/></g><g fill="#ffffff"><circle cx="0.13" cy="7.06" r="2.51"/><circle cx="5.67" cy="4.65" r="3.44"/><circle cx="10.43" cy="8.00" r="2.43"/><path d="M0.13 7.06 L1.80 4.84 L5.67 4.65 L9.43 5.54 L10.43 8.00 L10.43 10.43 L0.13 9.57 Z"/></g><path d="M7.39 6.58 A3.35 3.35 0 0 1 10.72 4.66" fill="none" stroke="#2b60b8" stroke-width="1.85"/></g>
<g transform="translate(213.4 113)"><use href="#sun" transform="translate(-2.9 -0.7)"/><g fill="#2b60b8"><circle cx="0.13" cy="7.06" r="4.36"/><circle cx="5.67" cy="4.65" r="5.29"/><circle cx="10.43" cy="8.00" r="4.28"/><path d="M0.13 9.07 L10.43 9.93 L10.43 12.28 L0.13 11.42 Z"/></g><g fill="#ffffff"><circle cx="0.13" cy="7.06" r="2.51"/><circle cx="5.67" cy="4.65" r="3.44"/><circle cx="10.43" cy="8.00" r="2.43"/><path d="M0.13 7.06 L1.80 4.84 L5.67 4.65 L9.43 5.54 L10.43 8.00 L10.43 10.43 L0.13 9.57 Z"/></g><path d="M7.39 6.58 A3.35 3.35 0 0 1 10.72 4.66" fill="none" stroke="#2b60b8" stroke-width="1.85"/></g>
<g transform="translate(248.0 113)"><use href="#moon"/></g>
<g transform="translate(282.6 113)"><use href="#moon"/></g>
<g transform="translate(317.1 113)"><use href="#sun" transform="translate(3.2 -0.7)"/><g fill="#2b60b8"><circle cx="-11.80" cy="9.00" r="5.33"/><circle cx="-4.70" cy="5.90" r="6.52"/><circle cx="1.40" cy="10.20" r="5.22"/><path d="M-11.80 11.97 L1.40 13.07 L1.40 15.43 L-11.80 14.33 Z"/></g><g fill="#d0d0d0"><circle cx="-11.80" cy="9.00" r="3.48"/><circle cx="-4.70" cy="5.90" r="4.67"/><circle cx="1.40" cy="10.20" r="3.38"/><path d="M-11.80 9.00 L-9.78 5.87 L-4.70 5.90 L0.29 6.80 L1.40 10.20 L1.40 13.57 L-11.80 12.47 Z"/></g><path d="M-2.50 8.38 A4.30 4.30 0 0 1 1.77 5.92" fill="none" stroke="#2b60b8" stroke-width="1.85"/></g>
<g transform="translate(351.7 113)"><use href="#sun" transform="translate(-2.9 -0.7)"/><g fill="#2b60b8"><circle cx="0.13" cy="7.06" r="4.36"/><circle cx="5.67" cy="4.65" r="5.29"/><circle cx="10.43" cy="8.00" r="4.28"/><path d="M0.13 9.07 L10.43 9.93 L10.43 12.28 L0.13 11.42 Z"/></g><g fill="#ffffff"><circle cx="0.13" cy="7.06" r="2.51"/><circle cx="5.67" cy="4.65" r="3.44"/><circle cx="10.43" cy="8.00" r="2.43"/><path d="M0.13 7.06 L1.80 4.84 L5.67 4.65 L9.43 5.54 L10.43 8.00 L10.43 10.43 L0.13 9.57 Z"/></g><path d="M7.39 6.58 A3.35 3.35 0 0 1 10.72 4.66" fill="none" stroke="#2b60b8" stroke-width="1.85"/></g>
<g transform="translate(386.3 113)"><use href="#moon"/></g>
<g transform="translate(420.9 113)"><use href="#moon" transform="translate(0.5 0)"/><line x1="-19" y1="2.7" x2="18" y2="2.7" stroke="#34557a" stroke-width="2"/><line x1="-17.3" y1="6" x2="17" y2="6" stroke="#34557a" stroke-width="2"/><line x1="-15.5" y1="10.5" x2="16" y2="10.5" stroke="#34557a" stroke-width="3"/></g>
<g transform="translate(455.4 113)"><use href="#sun" transform="translate(-2.9 -0.7)"/><g fill="#2b60b8"><circle cx="0.13" cy="7.06" r="4.36"/><circle cx="5.67" cy="4.65" r="5.29"/><circle cx="10.43" cy="8.00" r="4.28"/><path d="M0.13 9.07 L10.43 9.93 L10.43 12.28 L0.13 11.42 Z"/></g><g fill="#ffffff"><circle cx="0.13" cy="7.06" r="2.51"/><circle cx="5.67" cy="4.65" r="3.44"/><circle cx="10.43" cy="8.00" r="2.43"/><path d="M0.13 7.06 L1.80 4.84 L5.67 4.65 L9.43 5.54 L10.43 8.00 L10.43 10.43 L0.13 9.57 Z"/></g><path d="M7.39 6.58 A3.35 3.35 0 0 1 10.72 4.66" fill="none" stroke="#2b60b8" stroke-width="1.85"/></g>
<g transform="translate(490.0 113)"><use href="#sun" transform="translate(-2.9 -0.7)"/><g fill="#2b60b8"><circle cx="0.13" cy="7.06" r="4.36"/><circle cx="5.67" cy="4.65" r="5.29"/><circle cx="10.43" cy="8.00" r="4.28"/><path d="M0.13 9.07 L10.43 9.93 L10.43 12.28 L0.13 11.42 Z"/></g><g fill="#ffffff"><circle cx="0.13" cy="7.06" r="2.51"/><circle cx="5.67" cy="4.65" r="3.44"/><circle cx="10.43" cy="8.00" r="2.43"/><path d="M0.13 7.06 L1.80 4.84 L5.67 4.65 L9.43 5.54 L10.43 8.00 L10.43 10.43 L0.13 9.57 Z"/></g><path d="M7.39 6.58 A3.35 3.35 0 0 1 10.72 4.66" fill="none" stroke="#2b60b8" stroke-width="1.85"/></g>
<g transform="translate(524.6 113)"><use href="#moon"/><g fill="#3a5b80"><circle cx="-1.21" cy="7.78" r="4.31"/><circle cx="4.26" cy="5.39" r="5.24"/><circle cx="8.95" cy="8.70" r="4.24"/><path d="M-1.21 9.74 L8.95 10.59 L8.95 12.94 L-1.21 12.09 Z"/></g><g fill="#d0d0d0"><circle cx="-1.21" cy="7.78" r="2.46"/><circle cx="4.26" cy="5.39" r="3.39"/><circle cx="8.95" cy="8.70" r="2.39"/><path d="M-1.21 7.78 L0.44 5.59 L4.26 5.39 L7.95 6.28 L8.95 8.70 L8.95 11.09 L-1.21 10.24 Z"/></g><path d="M5.95 7.30 A3.31 3.31 0 0 1 9.24 5.40" fill="none" stroke="#3a5b80" stroke-width="1.85"/></g>
<g transform="translate(559.1 113)"><use href="#moon"/><g fill="#3a5b80"><circle cx="-1.21" cy="7.78" r="4.31"/><circle cx="4.26" cy="5.39" r="5.24"/><circle cx="8.95" cy="8.70" r="4.24"/><path d="M-1.21 9.74 L8.95 10.59 L8.95 12.94 L-1.21 12.09 Z"/></g><g fill="#d0d0d0"><circle cx="-1.21" cy="7.78" r="2.46"/><circle cx="4.26" cy="5.39" r="3.39"/><circle cx="8.95" cy="8.70" r="2.39"/><path d="M-1.21 7.78 L0.44 5.59 L4.26 5.39 L7.95 6.28 L8.95 8.70 L8.95 11.09 L-1.21 10.24 Z"/></g><path d="M5.95 7.30 A3.31 3.31 0 0 1 9.24 5.40" fill="none" stroke="#3a5b80" stroke-width="1.85"/></g>
<g transform="translate(593.7 113)"><use href="#sun" transform="translate(-2.9 -0.7)"/><g fill="#2b60b8"><circle cx="0.13" cy="7.06" r="4.36"/><circle cx="5.67" cy="4.65" r="5.29"/><circle cx="10.43" cy="8.00" r="4.28"/><path d="M0.13 9.07 L10.43 9.93 L10.43 12.28 L0.13 11.42 Z"/></g><g fill="#ffffff"><circle cx="0.13" cy="7.06" r="2.51"/><circle cx="5.67" cy="4.65" r="3.44"/><circle cx="10.43" cy="8.00" r="2.43"/><path d="M0.13 7.06 L1.80 4.84 L5.67 4.65 L9.43 5.54 L10.43 8.00 L10.43 10.43 L0.13 9.57 Z"/></g><path d="M7.39 6.58 A3.35 3.35 0 0 1 10.72 4.66" fill="none" stroke="#2b60b8" stroke-width="1.85"/></g>
<g transform="translate(628.3 113)"><use href="#sun"/></g>
<g transform="translate(662.9 113)"><use href="#moon"/><g fill="#3a5b80"><circle cx="-1.21" cy="7.78" r="4.31"/><circle cx="4.26" cy="5.39" r="5.24"/><circle cx="8.95" cy="8.70" r="4.24"/><path d="M-1.21 9.74 L8.95 10.59 L8.95 12.94 L-1.21 12.09 Z"/></g><g fill="#d0d0d0"><circle cx="-1.21" cy="7.78" r="2.46"/><circle cx="4.26" cy="5.39" r="3.39"/><circle cx="8.95" cy="8.70" r="2.39"/><path d="M-1.21 7.78 L0.44 5.59 L4.26 5.39 L7.95 6.28 L8.95 8.70 L8.95 11.09 L-1.21 10.24 Z"/></g><path d="M5.95 7.30 A3.31 3.31 0 0 1 9.24 5.40" fill="none" stroke="#3a5b80" stroke-width="1.85"/></g>
<g transform="translate(697.4 113)"><use href="#moon" transform="translate(-3 0)"/><g fill="#3a5b80"><circle cx="-4.56" cy="6.68" r="5.77"/><circle cx="3.25" cy="3.27" r="7.08"/><circle cx="9.96" cy="8.00" r="5.66"/><path d="M-4.56 10.10 L9.96 11.30 L9.96 13.66 L-4.56 12.45 Z"/></g><g fill="#d0d0d0"><circle cx="-4.56" cy="6.68" r="3.92"/><circle cx="3.25" cy="3.27" r="5.24"/><circle cx="9.96" cy="8.00" r="3.81"/><path d="M-4.56 6.68 L-2.38 3.14 L3.25 3.27 L8.80 4.17 L9.96 8.00 L9.96 11.80 L-4.56 10.60 Z"/></g><path d="M5.67 6.00 A4.73 4.73 0 0 1 10.37 3.29" fill="none" stroke="#3a5b80" stroke-width="1.85"/></g>
<g transform="translate(732.0 113)"><use href="#sun" transform="translate(3.2 -0.7)"/><g fill="#2b60b8"><circle cx="-11.80" cy="9.00" r="5.33"/><circle cx="-4.70" cy="5.90" r="6.52"/><circle cx="1.40" cy="10.20" r="5.22"/><path d="M-11.80 11.97 L1.40 13.07 L1.40 15.43 L-11.80 14.33 Z"/></g><g fill="#d0d0d0"><circle cx="-11.80" cy="9.00" r="3.48"/><circle cx="-4.70" cy="5.90" r="4.67"/><circle cx="1.40" cy="10.20" r="3.38"/><path d="M-11.80 9.00 L-9.78 5.87 L-4.70 5.90 L0.29 6.80 L1.40 10.20 L1.40 13.57 L-11.80 12.47 Z"/></g><path d="M-2.50 8.38 A4.30 4.30 0 0 1 1.77 5.92" fill="none" stroke="#2b60b8" stroke-width="1.85"/></g>
<g transform="translate(766.6 113)"><use href="#sun" transform="translate(3.2 -0.7)"/><g fill="#2b60b8"><circle cx="-11.80" cy="9.00" r="5.33"/><circle cx="-4.70" cy="5.90" r="6.52"/><circle cx="1.40" cy="10.20" r="5.22"/><path d="M-11.80 11.97 L1.40 13.07 L1.40 15.43 L-11.80 14.33 Z"/></g><g fill="#d0d0d0"><circle cx="-11.80" cy="9.00" r="3.48"/><circle cx="-4.70" cy="5.90" r="4.67"/><circle cx="1.40" cy="10.20" r="3.38"/><path d="M-11.80 9.00 L-9.78 5.87 L-4.70 5.90 L0.29 6.80 L1.40 10.20 L1.40 13.57 L-11.80 12.47 Z"/></g><path d="M-2.50 8.38 A4.30 4.30 0 0 1 1.77 5.92" fill="none" stroke="#2b60b8" stroke-width="1.85"/></g>
<g transform="translate(801.1 113)"><use href="#moon" transform="translate(-3 0)"/><g fill="#3a5b80"><circle cx="-4.56" cy="6.68" r="5.77"/><circle cx="3.25" cy="3.27" r="7.08"/><circle cx="9.96" cy="8.00" r="5.66"/><path d="M-4.56 10.10 L9.96 11.30 L9.96 13.66 L-4.56 12.45 Z"/></g><g fill="#d0d0d0"><circle cx="-4.56" cy="6.68" r="3.92"/><circle cx="3.25" cy="3.27" r="5.24"/><circle cx="9.96" cy="8.00" r="3.81"/><path d="M-4.56 6.68 L-2.38 3.14 L3.25 3.27 L8.80 4.17 L9.96 8.00 L9.96 11.80 L-4.56 10.60 Z"/></g><path d="M5.67 6.00 A4.73 4.73 0 0 1 10.37 3.29" fill="none" stroke="#3a5b80" stroke-width="1.85"/></g>
<g transform="translate(835.7 113)"><use href="#moon" transform="translate(0.5 0)"/><line x1="-19" y1="2.7" x2="18" y2="2.7" stroke="#34557a" stroke-width="2"/><line x1="-17.3" y1="6" x2="17" y2="6" stroke="#34557a" stroke-width="2"/><line x1="-15.5" y1="10.5" x2="16" y2="10.5" stroke="#34557a" stroke-width="3"/></g>
<g transform="translate(870.3 113)"><use href="#sun" transform="translate(3.2 -0.7)"/><g fill="#2b60b8"><circle cx="-11.80" cy="9.00" r="5.33"/><circle cx="-4.70" cy="5.90" r="6.52"/><circle cx="1.40" cy="10.20" r="5.22"/><path d="M-11.80 11.97 L1.40 13.07 L1.40 15.43 L-11.80 14.33 Z"/></g><g fill="#d0d0d0"><circle cx="-11.80" cy="9.00" r="3.48"/><circle cx="-4.70" cy="5.90" r="4.67"/><circle cx="1.40" cy="10.20" r="3.38"/><path d="M-11.80 9.00 L-9.78 5.87 L-4.70 5.90 L0.29 6.80 L1.40 10.20 L1.40 13.57 L-11.80 12.47 Z"/></g><path d="M-2.50 8.38 A4.30 4.30 0 0 1 1.77 5.92" fill="none" stroke="#2b60b8" stroke-width="1.85"/></g>
<g transform="translate(904.9 113)"><use href="#sun" transform="translate(3.2 -0.7)"/><g fill="#2b60b8"><circle cx="-11.80" cy="9.00" r="5.33"/><circle cx="-4.70" cy="5.90" r="6.52"/><circle cx="1.40" cy="10.20" r="5.22"/><path d="M-11.80 11.97 L1.40 13.07 L1.40 15.43 L-11.80 14.33 Z"/></g><g fill="#d0d0d0"><circle cx="-11.80" cy="9.00" r="3.48"/><circle cx="-4.70" cy="5.90" r="4.67"/><circle cx="1.40" cy="10.20" r="3.38"/><path d="M-11.80 9.00 L-9.78 5.87 L-4.70 5.90 L0.29 6.80 L1.40 10.20 L1.40 13.57 L-11.80 12.47 Z"/></g><path d="M-2.50 8.38 A4.30 4.30 0 0 1 1.77 5.92" fill="none" stroke="#2b60b8" stroke-width="1.85"/></g>
<g transform="translate(939.4 113)"><use href="#moon" transform="translate(0.5 0)"/><line x1="-19" y1="2.7" x2="18" y2="2.7" stroke="#34557a" stroke-width="2"/><line x1="-17.3" y1="6" x2="17" y2="6" stroke="#34557a" stroke-width="2"/><line x1="-15.5" y1="10.5" x2="16" y2="10.5" stroke="#34557a" stroke-width="3"/></g>
<g transform="translate(974.0 113)"><use href="#moon" transform="translate(0.5 0)"/><line x1="-19" y1="2.7" x2="18" y2="2.7" stroke="#34557a" stroke-width="2"/><line x1="-17.3" y1="6" x2="17" y2="6" stroke="#34557a" stroke-width="2"/><line x1="-15.5" y1="10.5" x2="16" y2="10.5" stroke="#34557a" stroke-width="3"/></g>
<g transform="translate(1008.6 113)"><use href="#sun" transform="translate(0 0)"/><rect x="-17" y="4.5" width="35" height="7" fill="#f4f7e8" opacity="0.85"/><line x1="-17.4" y1="3.9" x2="18" y2="3.9" stroke="#5a80b8" stroke-width="2"/><line x1="-17.4" y1="7.8" x2="17.6" y2="7.8" stroke="#5a80b8" stroke-width="2"/><line x1="-15" y1="12.6" x2="16.6" y2="12.6" stroke="#5a80b8" stroke-width="3"/></g>
<g transform="translate(1043.1 113)"><use href="#sun" transform="translate(3.2 -0.7)"/><g fill="#2b60b8"><circle cx="-11.80" cy="9.00" r="5.33"/><circle cx="-4.70" cy="5.90" r="6.52"/><circle cx="1.40" cy="10.20" r="5.22"/><path d="M-11.80 11.97 L1.40 13.07 L1.40 15.43 L-11.80 14.33 Z"/></g><g fill="#d0d0d0"><circle cx="-11.80" cy="9.00" r="3.48"/><circle cx="-4.70" cy="5.90" r="4.67"/><circle cx="1.40" cy="10.20" r="3.38"/><path d="M-11.80 9.00 L-9.78 5.87 L-4.70 5.90 L0.29 6.80 L1.40 10.20 L1.40 13.57 L-11.80 12.47 Z"/></g><path d="M-2.50 8.38 A4.30 4.30 0 0 1 1.77 5.92" fill="none" stroke="#2b60b8" stroke-width="1.85"/></g>
<g transform="translate(1077.7 113)"><g fill="#3a5b80"><circle cx="-11.70" cy="3.90" r="6.33"/><circle cx="-0.80" cy="-2.50" r="6.83"/><circle cx="10.90" cy="2.00" r="7.22"/><path d="M-11.70 7.88 L10.90 6.88 L10.90 9.23 L-11.70 10.23 Z"/></g><g fill="#d0d0d0"><circle cx="-11.70" cy="3.90" r="4.48"/><circle cx="-0.80" cy="-2.50" r="4.98"/><circle cx="10.90" cy="2.00" r="5.38"/><path d="M-11.70 3.90 L-6.25 0.70 L-0.80 -2.50 L5.05 -0.25 L10.90 2.00 L10.90 7.38 L-11.70 8.38 Z"/></g><g fill="#3a5b80"><circle cx="-4.50" cy="5.70" r="4.92"/><circle cx="3.20" cy="2.00" r="5.92"/><circle cx="9.10" cy="7.00" r="5.42"/><path d="M-4.50 8.27 L9.10 10.07 L9.10 12.43 L-4.50 10.62 Z"/></g><g fill="#ffffff"><circle cx="-4.50" cy="5.70" r="3.08"/><circle cx="3.20" cy="2.00" r="4.08"/><circle cx="9.10" cy="7.00" r="3.58"/><path d="M-4.50 5.70 L-1.27 3.77 L3.20 2.00 L7.48 3.41 L9.10 7.00 L9.10 10.57 L-4.50 8.77 Z"/></g><path d="M5.02 5.10 A4.50 4.50 0 0 1 9.49 2.52" fill="none" stroke="#3a5b80" stroke-width="1.85"/><line x1="-2.6" y1="15.5" x2="-3.6" y2="20.5" stroke="#34557a" stroke-width="2.2"/><line x1="1.8" y1="15.5" x2="0.8" y2="20.5" stroke="#34557a" stroke-width="2.2"/></g>
<g stroke="#000" stroke-width="1.9" stroke-linecap="round" fill="none">
<path d="M114.0 154.6 L135.0 151.0 M131.6 151.6 L132.4 156.5"/>
<path d="M133.0 150.0 L156.0 156.3 M152.6 155.4 L151.3 160.2"/>
<path d="M150.0 147.5 L174.0 157.0 M170.7 155.7 L168.9 160.4"/>
<path d="M167.5 146.7 L189.2 159.6 M186.2 157.8 L183.6 162.1"/>
<path d="M183.3 151.7 L207.0 153.5 M203.5 153.2 L203.1 158.2"/>
<path d="M200.8 150.8 L225.0 155.0 M221.6 154.4 L220.7 159.3"/>
<path d="M218.8 147.5 L241.2 158.3 M238.1 156.8 L235.9 161.3"/>
<path d="M239.6 143.3 L255.8 162.0 M253.5 159.4 L249.7 162.6"/>
<path d="M252.5 155.4 L274.0 150.8 M270.6 151.5 L271.6 156.4"/>
<circle cx="282.6" cy="153" r="3.7"/>
<circle cx="299.9" cy="153" r="3.7"/>
<circle cx="317.1" cy="153" r="3.7"/>
<circle cx="334.4" cy="153" r="3.7"/>
<circle cx="351.7" cy="153" r="3.7"/>
<circle cx="369.0" cy="153" r="3.7"/>
<circle cx="386.3" cy="153" r="3.7"/>
<circle cx="403.6" cy="153" r="3.7"/>
<circle cx="420.9" cy="153" r="3.7"/>
<circle cx="438.1" cy="153" r="3.7"/>
<circle cx="455.4" cy="153" r="3.7"/>
<circle cx="472.7" cy="153" r="3.7"/>
<circle cx="490.0" cy="153" r="3.7"/>
<circle cx="507.3" cy="153" r="3.7"/>
<circle cx="524.6" cy="153" r="3.7"/>
<circle cx="541.9" cy="153" r="3.7"/>
<circle cx="559.1" cy="153" r="3.7"/>
<circle cx="576.4" cy="153" r="3.7"/>
<circle cx="593.7" cy="153" r="3.7"/>
<circle cx="611.0" cy="153" r="3.7"/>
<circle cx="628.3" cy="153" r="3.7"/>
<circle cx="645.6" cy="153" r="3.7"/>
<circle cx="662.9" cy="153" r="3.7"/>
<circle cx="680.1" cy="153" r="3.7"/>
<circle cx="697.4" cy="153" r="3.7"/>
<circle cx="714.7" cy="153" r="3.7"/>
<circle cx="732.0" cy="153" r="3.7"/>
<circle cx="749.3" cy="153" r="3.7"/>
<circle cx="766.6" cy="153" r="3.7"/>
<circle cx="783.9" cy="153" r="3.7"/>
<circle cx="801.1" cy="153" r="3.7"/>
<circle cx="818.4" cy="153" r="3.7"/>
<circle cx="835.7" cy="153" r="3.7"/>
<circle cx="853.0" cy="153" r="3.7"/>
<circle cx="870.3" cy="153" r="3.7"/>
<path d="M899.0 152.5 L876.0 152.5 M879.5 152.5 L879.5 147.5"/>
<path d="M916.0 152.0 L893.0 152.5 M896.5 152.4 L896.4 147.4"/>
<path d="M934.0 156.5 L911.0 152.0 M914.4 152.7 L915.4 147.8"/>
<path d="M947.0 144.6 L929.6 161.5 M932.1 159.1 L928.6 155.5"/>
<path d="M961.2 141.5 L951.2 164.0 M952.7 160.8 L948.1 158.8"/>
<circle cx="974.0" cy="153" r="3.7"/>
<circle cx="991.3" cy="153" r="3.7"/>
<circle cx="1008.6" cy="153" r="3.7"/>
<path d="M1037.0 151.5 L1013.0 153.5 M1016.5 153.2 L1016.1 148.2"/>
<path d="M1053.5 157.5 L1035.0 150.5 M1038.3 151.7 L1040.0 147.1"/>
<circle cx="1060.4" cy="153" r="3.7"/>
<circle cx="1077.7" cy="153" r="3.7"/>
<circle cx="1095.0" cy="153" r="3.7"/>
</g>
<text x="122.5" y="365.8" font-size="17.5" fill="#000" text-anchor="end" textLength="10.4" lengthAdjust="spacingAndGlyphs">0</text>
<text x="122.5" y="327.8" font-size="17.5" fill="#000" text-anchor="end" textLength="10.4" lengthAdjust="spacingAndGlyphs">1</text>
<text x="122.5" y="290.8" font-size="17.5" fill="#000" text-anchor="end" textLength="10.4" lengthAdjust="spacingAndGlyphs">2</text>
<text x="122.5" y="253.8" font-size="17.5" fill="#000" text-anchor="end" textLength="10.4" lengthAdjust="spacingAndGlyphs">3</text>
<text x="122.5" y="215.8" font-size="17.5" fill="#000" text-anchor="end" textLength="10.4" lengthAdjust="spacingAndGlyphs">4</text>
<text x="122.5" y="178.8" font-size="17.5" fill="#000" text-anchor="end" textLength="10.4" lengthAdjust="spacingAndGlyphs">5</text>
<text x="47" y="365.8" font-size="17.5" fill="#ff0000" textLength="17.5" lengthAdjust="spacingAndGlyphs">-7</text>
<text x="47" y="327.8" font-size="17.5" fill="#ff0000" textLength="17.5" lengthAdjust="spacingAndGlyphs">-3</text>
<text x="47" y="290.8" font-size="17.5" fill="#ff0000" textLength="10.4" lengthAdjust="spacingAndGlyphs">1</text>
<text x="47" y="253.8" font-size="17.5" fill="#ff0000" textLength="10.4" lengthAdjust="spacingAndGlyphs">6</text>
<text x="47" y="215.8" font-size="17.5" fill="#ff0000" textLength="20.6" lengthAdjust="spacingAndGlyphs">10</text>
<text x="47" y="178.8" font-size="17.5" fill="#ff0000" textLength="20.6" lengthAdjust="spacingAndGlyphs">14</text>
<text x="1099.5" y="365.8" font-size="17.5" fill="#000" textLength="10.4" lengthAdjust="spacingAndGlyphs">0</text>
<text x="1099.5" y="327.8" font-size="17.5" fill="#000" textLength="26" lengthAdjust="spacingAndGlyphs">1.5</text>
<text x="1099.5" y="290.8" font-size="17.5" fill="#000" textLength="26" lengthAdjust="spacingAndGlyphs">3.5</text>
<text x="1099.5" y="253.8" font-size="17.5" fill="#000" textLength="26" lengthAdjust="spacingAndGlyphs">6.0</text>
<text x="1099.5" y="215.8" font-size="17.5" fill="#000" textLength="26" lengthAdjust="spacingAndGlyphs">9.0</text>
<text x="1099.5" y="178.8" font-size="17.5" fill="#000" textLength="20.6" lengthAdjust="spacingAndGlyphs">14</text>
<text transform="translate(35.2 267) rotate(-90)" font-size="20" fill="#ff0000" text-anchor="middle" textLength="163" lengthAdjust="spacingAndGlyphs">Temperatura (°C)</text>
<text transform="translate(99.8 263.5) rotate(-90)" font-size="20" fill="#000" text-anchor="middle" textLength="161.7" lengthAdjust="spacingAndGlyphs">Padavine (mm/h)</text>
<text transform="translate(1144.4 254) rotate(-90)" font-size="20" fill="#000" text-anchor="middle" textLength="186.7" lengthAdjust="spacingAndGlyphs">Višina oblakov (km)</text>
<text x="161.6" y="377" font-size="17.5" fill="#000" text-anchor="middle" textLength="20.8" lengthAdjust="spacingAndGlyphs">06</text>
<text x="196.1" y="377" font-size="17.5" fill="#000" text-anchor="middle" textLength="20.8" lengthAdjust="spacingAndGlyphs">12</text>
<text x="230.7" y="377" font-size="17.5" fill="#000" text-anchor="middle" textLength="20.8" lengthAdjust="spacingAndGlyphs">18</text>
<text x="265.3" y="377" font-size="17.5" fill="#000" text-anchor="middle" textLength="28.2" lengthAdjust="spacingAndGlyphs">pet</text>
<text x="299.9" y="377" font-size="17.5" fill="#000" text-anchor="middle" textLength="20.8" lengthAdjust="spacingAndGlyphs">06</text>
<text x="334.4" y="377" font-size="17.5" fill="#000" text-anchor="middle" textLength="20.8" lengthAdjust="spacingAndGlyphs">12</text>
<text x="369.0" y="377" font-size="17.5" fill="#000" text-anchor="middle" textLength="20.8" lengthAdjust="spacingAndGlyphs">18</text>
<text x="403.6" y="377" font-size="17.5" fill="#000" text-anchor="middle" textLength="30.4" lengthAdjust="spacingAndGlyphs">sob</text>
<text x="438.1" y="377" font-size="17.5" fill="#000" text-anchor="middle" textLength="20.8" lengthAdjust="spacingAndGlyphs">06</text>
<text x="472.7" y="377" font-size="17.5" fill="#000" text-anchor="middle" textLength="20.8" lengthAdjust="spacingAndGlyphs">12</text>
<text x="507.3" y="377" font-size="17.5" fill="#000" text-anchor="middle" textLength="20.8" lengthAdjust="spacingAndGlyphs">18</text>
<text x="541.9" y="377" font-size="17.5" fill="#000" text-anchor="middle" textLength="32.4" lengthAdjust="spacingAndGlyphs">ned</text>
<text x="576.4" y="377" font-size="17.5" fill="#000" text-anchor="middle" textLength="20.8" lengthAdjust="spacingAndGlyphs">06</text>
<text x="611.0" y="377" font-size="17.5" fill="#000" text-anchor="middle" textLength="20.8" lengthAdjust="spacingAndGlyphs">12</text>
<text x="645.6" y="377" font-size="17.5" fill="#000" text-anchor="middle" textLength="20.8" lengthAdjust="spacingAndGlyphs">18</text>
<text x="680.1" y="377" font-size="17.5" fill="#000" text-anchor="middle" textLength="32.4" lengthAdjust="spacingAndGlyphs">pon</text>
<text x="714.7" y="377" font-size="17.5" fill="#000" text-anchor="middle" textLength="20.8" lengthAdjust="spacingAndGlyphs">06</text>
<text x="749.3" y="377" font-size="17.5" fill="#000" text-anchor="middle" textLength="20.8" lengthAdjust="spacingAndGlyphs">12</text>
<text x="783.9" y="377" font-size="17.5" fill="#000" text-anchor="middle" textLength="20.8" lengthAdjust="spacingAndGlyphs">18</text>
<text x="818.4" y="377" font-size="17.5" fill="#000" text-anchor="middle" textLength="24.3" lengthAdjust="spacingAndGlyphs">tor</text>
<text x="853.0" y="377" font-size="17.5" fill="#000" text-anchor="middle" textLength="20.8" lengthAdjust="spacingAndGlyphs">06</text>
<text x="887.6" y="377" font-size="17.5" fill="#000" text-anchor="middle" textLength="20.8" lengthAdjust="spacingAndGlyphs">12</text>
<text x="922.1" y="377" font-size="17.5" fill="#000" text-anchor="middle" textLength="20.8" lengthAdjust="spacingAndGlyphs">18</text>
<text x="956.7" y="377" font-size="17.5" fill="#000" text-anchor="middle" textLength="26.6" lengthAdjust="spacingAndGlyphs">sre</text>
<text x="991.3" y="377" font-size="17.5" fill="#000" text-anchor="middle" textLength="20.8" lengthAdjust="spacingAndGlyphs">06</text>
<text x="1025.9" y="377" font-size="17.5" fill="#000" text-anchor="middle" textLength="20.8" lengthAdjust="spacingAndGlyphs">12</text>
<text x="1060.4" y="377" font-size="17.5" fill="#000" text-anchor="middle" textLength="20.8" lengthAdjust="spacingAndGlyphs">18</text>
<rect x="127" y="390" width="32" height="11" fill="#0050ff"/>
<rect x="165" y="386" width="105" height="19.5" fill="#fff"/>
<text x="169" y="402" font-size="17.5" fill="#000" textLength="34.5" lengthAdjust="spacingAndGlyphs">Dež</text>
<rect x="278" y="390" width="32" height="11" fill="#10d8c8"/>
<rect x="310" y="386" width="110" height="19.5" fill="#fff"/>
<text x="319" y="402" font-size="17.5" fill="#000" textLength="115" lengthAdjust="spacingAndGlyphs">Možnost ploh</text>
<text x="499" y="402" font-size="16" fill="#0000ff" textLength="172" lengthAdjust="spacingAndGlyphs">© vreme.us &amp; vreme.pro</text>
<rect x="758" y="386.5" width="182" height="19.3" fill="#fff"/>
<text x="759.5" y="402" font-size="17.5" fill="#000" textLength="176" lengthAdjust="spacingAndGlyphs">Gostota oblakov (%)</text>
<rect x="949.0" y="385.3" width="29.2" height="12.8" fill="#d0d0d0"/>
<rect x="978.1" y="385.3" width="29.2" height="12.8" fill="#b0b0b0"/>
<rect x="1007.2" y="385.3" width="29.2" height="12.8" fill="#909090"/>
<rect x="1036.3" y="385.3" width="29.2" height="12.8" fill="#707070"/>
<rect x="1065.4" y="385.3" width="29.2" height="12.8" fill="#555555"/>
<rect x="949.5" y="385.5" width="145" height="12.5" fill="none" stroke="#222" stroke-width="1"/>
<text x="949.3" y="414.6" font-size="16.3" fill="#000" text-anchor="middle" textLength="18" lengthAdjust="spacingAndGlyphs">10</text>
<text x="978.4" y="414.6" font-size="16.3" fill="#000" text-anchor="middle" textLength="18" lengthAdjust="spacingAndGlyphs">25</text>
<text x="1007.5" y="414.6" font-size="16.3" fill="#000" text-anchor="middle" textLength="18" lengthAdjust="spacingAndGlyphs">50</text>
<text x="1036.6" y="414.6" font-size="16.3" fill="#000" text-anchor="middle" textLength="18" lengthAdjust="spacingAndGlyphs">75</text>
<text x="1065.7" y="414.6" font-size="16.3" fill="#000" text-anchor="middle" textLength="18" lengthAdjust="spacingAndGlyphs">90</text>
<text x="1094.8" y="414.6" font-size="16.3" fill="#000" text-anchor="middle" textLength="28" lengthAdjust="spacingAndGlyphs">100</text>
</svg></body></html>
